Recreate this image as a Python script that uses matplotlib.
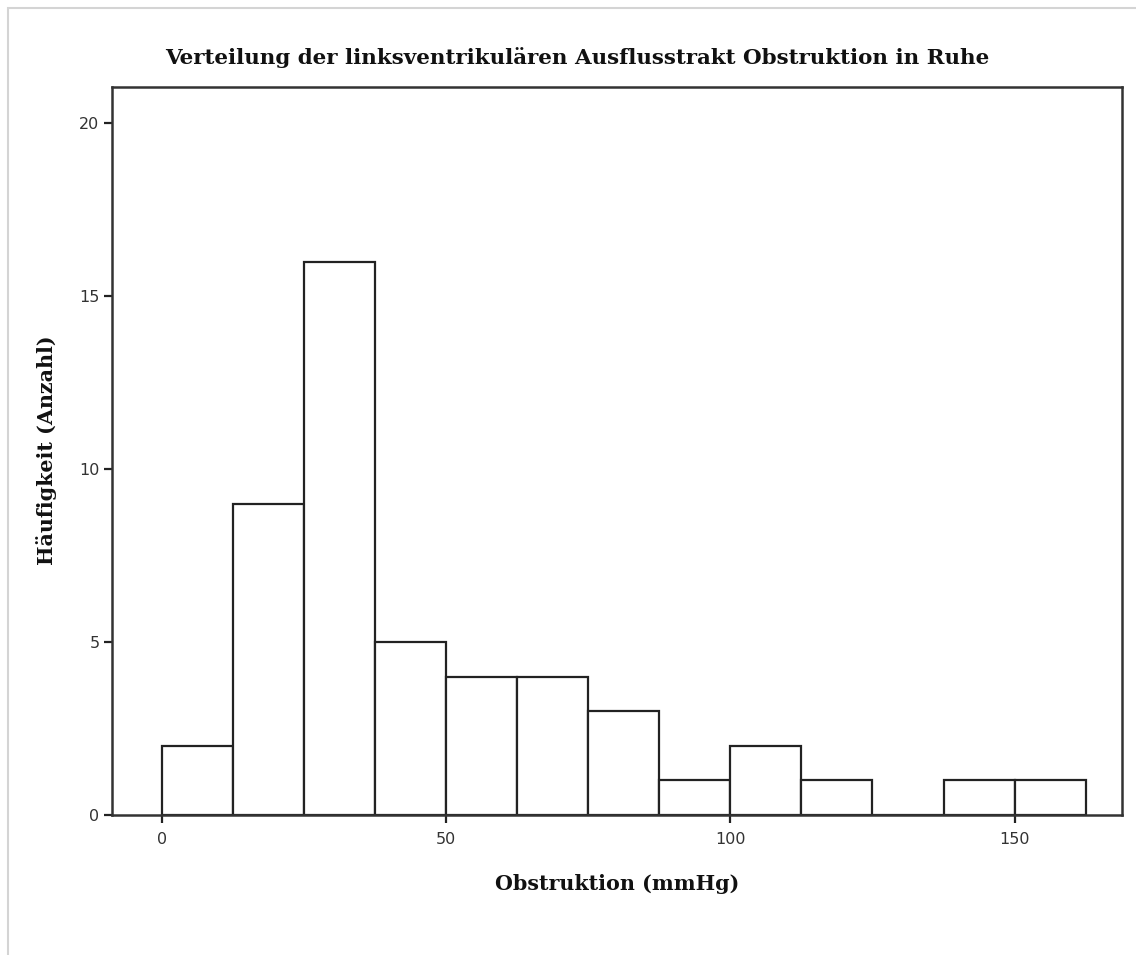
import matplotlib
matplotlib.use("Agg")
import matplotlib.pyplot as plt
from matplotlib.patches import Rectangle

# Data (histogram, bin width 12.5 mmHg starting at 0)
bin_edges = [0, 12.5, 25, 37.5, 50, 62.5, 75, 87.5, 100, 112.5, 125, 137.5, 150, 162.5]
counts = [2, 9, 16, 5, 4, 4, 3, 1, 2, 1, 0, 1, 1]
x_ticks = [0, 50, 100, 150]
y_ticks = [0, 5, 10, 15, 20]
title = "Verteilung der linksventrikulären Ausflusstrakt Obstruktion in Ruhe"
xlabel = "Obstruktion (mmHg)"
ylabel = "Häufigkeit (Anzahl)"

W, H = 1136, 955
fig = plt.figure(figsize=(W / 100, H / 100), dpi=100)
fig.patch.set_facecolor("white")

# outer light border
fig.add_artist(Rectangle((8 / W, -0.01), 1.1, (H - 8) / H + 0.01, transform=fig.transFigure,
                         fill=False, edgecolor="#d4d4d4", linewidth=1.5))

left, right, top, bottom = 112, 1122, 87, 815
ax = fig.add_axes([left / W, 1 - bottom / H, (right - left) / W, (bottom - top) / H])

lefts = bin_edges[:-1]
widths = [bin_edges[i + 1] - bin_edges[i] for i in range(len(counts))]
ax.bar(lefts, counts, width=widths, align="edge", facecolor="white",
       edgecolor="#222222", linewidth=1.6)

ax.set_xlim(-8.8, 168.9)
ax.set_ylim(0, 21.05)
ax.set_xticks(x_ticks)
ax.set_yticks(y_ticks)
for s in ax.spines.values():
    s.set_linewidth(1.8)
    s.set_color("#333333")
ax.tick_params(axis="both", direction="out", length=6, width=1.6, color="#222222",
               labelsize=11.5, labelcolor="#333333")
ax.tick_params(axis="x", pad=6)
ax.tick_params(axis="y", pad=3)
for lab in ax.get_xticklabels() + ax.get_yticklabels():
    lab.set_fontfamily("DejaVu Sans")

fig.text(577 / W, 1 - 58 / H, title, ha="center", va="center",
         fontfamily="DejaVu Serif", fontweight="bold", fontsize=15.4, color="#111111")
fig.text(617 / W, 1 - 884 / H, xlabel, ha="center", va="center",
         fontfamily="DejaVu Serif", fontweight="bold", fontsize=14.9, color="#111111")
fig.text(47 / W, 1 - 450 / H, ylabel, ha="center", va="center", rotation=90,
         fontfamily="DejaVu Serif", fontweight="bold", fontsize=14.9, color="#111111")

fig.savefig("out.png", dpi=100)
